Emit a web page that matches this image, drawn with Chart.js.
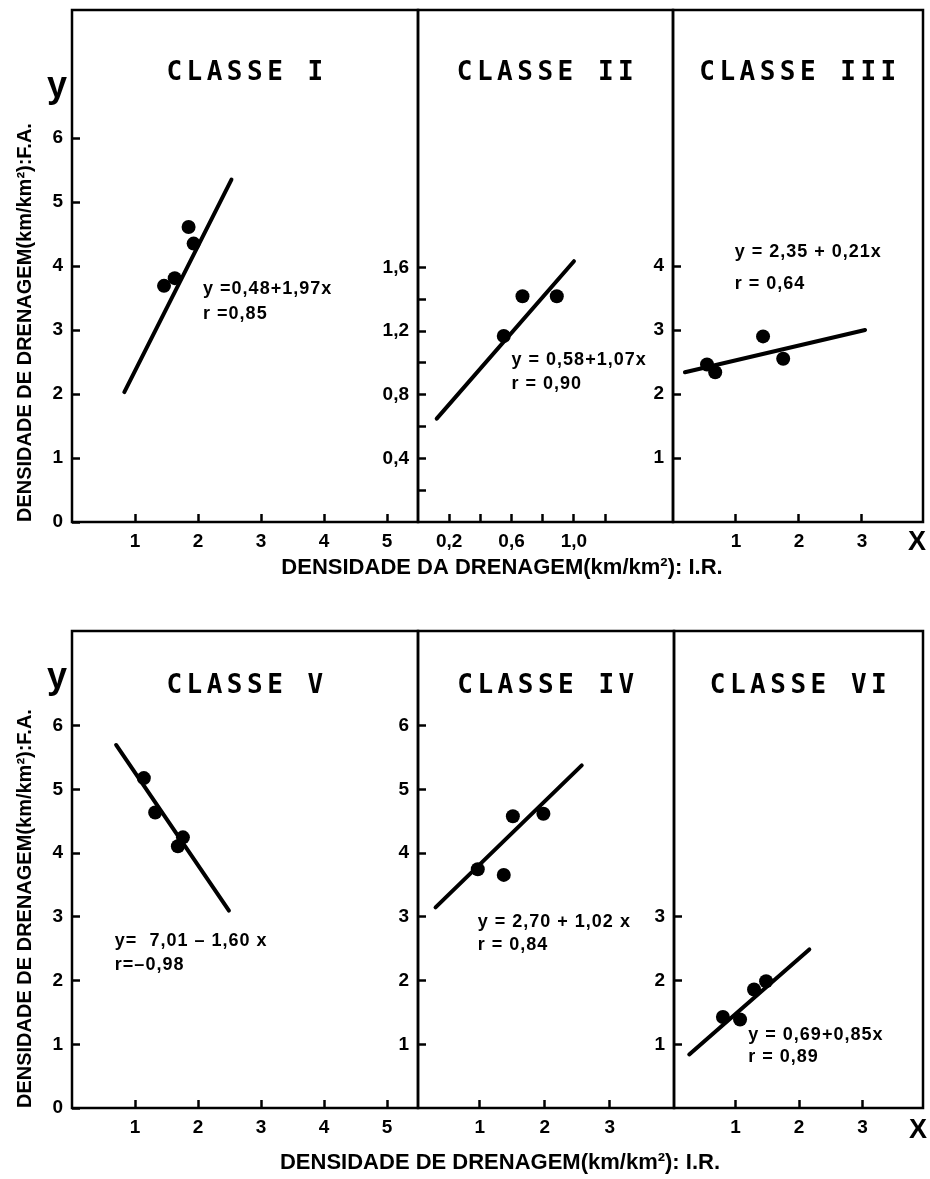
<!DOCTYPE html>
<html>
<head>
<meta charset="utf-8">
<script src="https://cdn.jsdelivr.net/npm/chart.js@4"></script>
<style>
  html, body { margin: 0; background: #fff; }
  #wrap { position: relative; width: 930px; height: 1179px; }
  #wrap canvas { position: absolute; left: 0; top: 0; }
</style>
</head>
<body>
<div id="wrap">
  <canvas id="c1" width="930" height="1179"></canvas>
  <canvas id="c2" width="930" height="1179"></canvas>
  <canvas id="c3" width="930" height="1179"></canvas>
  <canvas id="c5" width="930" height="1179"></canvas>
  <canvas id="c4" width="930" height="1179"></canvas>
  <canvas id="c6" width="930" height="1179"></canvas>
</div>
<script>
// Classe I
var c1PtsX = [1.46, 1.63, 1.85, 1.93];
var c1PtsY = [3.69, 3.81, 4.61, 4.35];
var c1FitX = [0.83, 2.53];
var c1FitY = [2.03, 5.35];
var c1XTicks = [1, 2, 3, 4, 5];
var c1XLabels = ['1', '2', '3', '4', '5'];
var c1YTicks = [0, 1, 2, 3, 4, 5, 6];
var c1YLabels = ['0', '1', '2', '3', '4', '5', '6'];
var c1Eq = ['y =0,48+1,97x', 'r =0,85'];

// Classe II
var c2PtsX = [0.55, 0.67, 0.89];
var c2PtsY = [1.17, 1.42, 1.42];
var c2FitX = [0.12, 1.0];
var c2FitY = [0.65, 1.64];
var c2XTicks = [0.2, 0.4, 0.6, 0.8, 1.0, 1.2];
var c2XLabels = ['0,2', '', '0,6', '', '1,0', ''];
var c2YTicks = [0.2, 0.4, 0.6, 0.8, 1.0, 1.2, 1.4, 1.6];
var c2YLabels = ['', '0,4', '', '0,8', '', '1,2', '', '1,6'];
var c2Eq = ['y = 0,58+1,07x', 'r = 0,90'];

// Classe III
var c3PtsX = [0.54, 0.67, 1.43, 1.75];
var c3PtsY = [2.46, 2.34, 2.90, 2.55];
var c3FitX = [0.19, 3.05];
var c3FitY = [2.34, 3.0];
var c3XTicks = [1, 2, 3];
var c3XLabels = ['1', '2', '3'];
var c3YTicks = [1, 2, 3, 4];
var c3YLabels = ['1', '2', '3', '4'];
var c3Eq = ['y = 2,35 + 0,21x', 'r = 0,64'];

// Classe V
var c5PtsX = [1.14, 1.32, 1.68, 1.76];
var c5PtsY = [5.18, 4.64, 4.11, 4.25];
var c5FitX = [0.70, 2.49];
var c5FitY = [5.70, 3.10];
var c5XTicks = [1, 2, 3, 4, 5];
var c5XLabels = ['1', '2', '3', '4', '5'];
var c5YTicks = [0, 1, 2, 3, 4, 5, 6];
var c5YLabels = ['0', '1', '2', '3', '4', '5', '6'];
var c5Eq = ['y=  7,01 \u2013 1,60 x', 'r=\u20130,98'];

// Classe IV
var c4PtsX = [0.97, 1.37, 1.51, 1.98];
var c4PtsY = [3.75, 3.66, 4.58, 4.62];
var c4FitX = [0.32, 2.57];
var c4FitY = [3.15, 5.38];
var c4XTicks = [1, 2, 3];
var c4XLabels = ['1', '2', '3'];
var c4YTicks = [1, 2, 3, 4, 5, 6];
var c4YLabels = ['1', '2', '3', '4', '5', '6'];
var c4Eq = ['y = 2,70 + 1,02 x', 'r = 0,84'];

// Classe VI
var c6PtsX = [0.80, 1.07, 1.29, 1.48];
var c6PtsY = [1.43, 1.39, 1.86, 1.99];
var c6FitX = [0.27, 2.16];
var c6FitY = [0.84, 2.49];
var c6XTicks = [1, 2, 3];
var c6XLabels = ['1', '2', '3'];
var c6YTicks = [1, 2, 3];
var c6YLabels = ['1', '2', '3'];
var c6Eq = ['y = 0,69+0,85x', 'r = 0,89'];

var yAxisTitle = 'DENSIDADE DE DRENAGEM(km/km\u00b2):F.A.';
var xAxisTitleTop = 'DENSIDADE DA DRENAGEM(km/km\u00b2): I.R.';
var xAxisTitleBottom = 'DENSIDADE DE DRENAGEM(km/km\u00b2): I.R.';

var FONT = "'Liberation Sans', Arial, sans-serif";
var MONO = "'DejaVu Sans Mono', monospace";
var W_Y = 60, H_X = 40;

function pts(xs, ys) {
    return xs.map(function (x, i) { return { x: x, y: ys[i] }; });
}

// panel layout (box = left, top, right, bottom in px)
var panels = [
    { id: 'c1', box: [72, 10, 418, 522], xr: [0, 5.49], yr: [0, 8], title: 'CLASSE I', titleDy: 63,
      px: c1PtsX, py: c1PtsY, fx: c1FitX, fy: c1FitY, xt: c1XTicks, xl: c1XLabels, yt: c1YTicks, yl: c1YLabels,
      eq: c1Eq, eqAt: [2.08, 3.64, 3.25], yTitle: true, row: 'top' },
    { id: 'c2', box: [418, 10, 673, 522], xr: [0, 1.635], yr: [0, 3.22], title: 'CLASSE II', titleDy: 63,
      px: c2PtsX, py: c2PtsY, fx: c2FitX, fy: c2FitY, xt: c2XTicks, xl: c2XLabels, yt: c2YTicks, yl: c2YLabels,
      eq: c2Eq, eqAt: [0.60, 1.02, 0.87] },
    { id: 'c3', box: [673, 10, 923, 522], xr: [0, 3.97], yr: [0, 8], title: 'CLASSE III', titleDy: 63,
      px: c3PtsX, py: c3PtsY, fx: c3FitX, fy: c3FitY, xt: c3XTicks, xl: c3XLabels, yt: c3YTicks, yl: c3YLabels,
      eq: c3Eq, eqAt: [0.98, 4.22, 3.72] },
    { id: 'c5', box: [72, 631, 418, 1108], xr: [0, 5.49], yr: [0, 7.49], title: 'CLASSE V', titleDy: 55,
      px: c5PtsX, py: c5PtsY, fx: c5FitX, fy: c5FitY, xt: c5XTicks, xl: c5XLabels, yt: c5YTicks, yl: c5YLabels,
      eq: c5Eq, eqAt: [0.68, 2.62, 2.24], yTitle: true, row: 'bottom' },
    { id: 'c4', box: [418, 631, 674, 1108], xr: [0.05, 3.99], yr: [0, 7.49], title: 'CLASSE IV', titleDy: 55,
      px: c4PtsX, py: c4PtsY, fx: c4FitX, fy: c4FitY, xt: c4XTicks, xl: c4XLabels, yt: c4YTicks, yl: c4YLabels,
      eq: c4Eq, eqAt: [0.97, 2.92, 2.56] },
    { id: 'c6', box: [674, 631, 923, 1108], xr: [0.03, 3.95], yr: [0, 7.49], title: 'CLASSE VI', titleDy: 55,
      px: c6PtsX, py: c6PtsY, fx: c6FitX, fy: c6FitY, xt: c6XTicks, xl: c6XLabels, yt: c6YTicks, yl: c6YLabels,
      eq: c6Eq, eqAt: [1.2, 1.15, 0.80] }
];

var rowText = {
    top: { yLetter: [57, 97], xLetter: [917, 543], xTitle: xAxisTitleTop, xTitleAt: [502, 568] },
    bottom: { yLetter: [57, 688], xLetter: [918, 1131], xTitle: xAxisTitleBottom, xTitleAt: [500, 1163] }
};

var framePlugin = {
    id: 'frame',
    beforeDatasetsDraw: function (chart) {
        var a = chart.chartArea, c = chart.ctx;
        c.save();
        c.strokeStyle = '#000';
        c.lineWidth = 2.5;
        c.strokeRect(a.left, a.top, a.right - a.left, a.bottom - a.top);
        c.restore();
    }
};

function textPlugin(p) {
    return {
        id: 'panelText',
        afterDraw: function (chart) {
            var ctx = chart.ctx, a = chart.chartArea;
            var sx = chart.scales.x, sy = chart.scales.y;
            ctx.save();
            ctx.fillStyle = '#000';
            // panel title
            ctx.font = 'bold 26px ' + MONO;
            ctx.letterSpacing = '4.5px';
            ctx.textAlign = 'center';
            ctx.textBaseline = 'middle';
            ctx.fillText(p.title, (a.left + a.right) / 2 + 2, a.top + p.titleDy);
            // regression equation
            ctx.font = 'bold 18px ' + FONT;
            ctx.letterSpacing = '1px';
            ctx.textAlign = 'left';
            var ex = sx.getPixelForValue(p.eqAt[0]);
            ctx.fillText(p.eq[0], ex, sy.getPixelForValue(p.eqAt[1]));
            ctx.fillText(p.eq[1], ex, sy.getPixelForValue(p.eqAt[2]));
            ctx.letterSpacing = '0px';
            // row-level texts
            if (p.row) {
                var r = rowText[p.row];
                ctx.textAlign = 'center';
                ctx.textBaseline = 'alphabetic';
                ctx.font = 'bold 36px ' + FONT;
                ctx.fillText('y', r.yLetter[0], r.yLetter[1]);
                ctx.textBaseline = 'middle';
                ctx.font = 'bold 27px ' + FONT;
                ctx.fillText('X', r.xLetter[0], r.xLetter[1]);
                ctx.font = 'bold 22px ' + FONT;
                ctx.fillText(r.xTitle, r.xTitleAt[0], r.xTitleAt[1]);
            }
            ctx.restore();
        }
    };
}

panels.forEach(function (p) {
    var yw = p.yTitle ? p.box[0] : W_Y;
    var tickFont = { family: FONT, size: 19, weight: 'bold' };
    new Chart(document.getElementById(p.id), {
        type: 'scatter',
        data: {
            datasets: [
                { data: pts(p.px, p.py), pointRadius: 7, pointHoverRadius: 7,
                  backgroundColor: '#000', borderWidth: 0 },
                { data: pts(p.fx, p.fy), showLine: true, pointRadius: 0, borderColor: '#000',
                  borderWidth: 4, borderCapStyle: 'round' }
            ]
        },
        options: {
            responsive: false,
            animation: false,
            events: [],
            layout: { padding: { left: p.box[0] - yw, top: p.box[1], right: 930 - p.box[2], bottom: 1179 - p.box[3] - H_X } },
            plugins: { legend: { display: false }, tooltip: { enabled: false } },
            scales: {
                x: {
                    type: 'linear', min: p.xr[0], max: p.xr[1],
                    afterFit: function (s) { s.height = H_X; s.paddingLeft = 0; s.paddingRight = 0; },
                    afterBuildTicks: function (s) { s.ticks = p.xt.map(function (v) { return { value: v }; }); },
                    grid: { drawOnChartArea: false, drawTicks: true, tickLength: -8, tickWidth: 2.5, tickColor: '#000' },
                    border: { display: false },
                    ticks: { autoSkip: false, maxRotation: 0, padding: 16, color: '#000', font: tickFont,
                             callback: function (v, i) { return p.xl[i]; } }
                },
                y: {
                    type: 'linear', min: p.yr[0], max: p.yr[1],
                    afterFit: function (s) { s.width = yw; s.paddingTop = 0; s.paddingBottom = 0; },
                    afterBuildTicks: function (s) { s.ticks = p.yt.map(function (v) { return { value: v }; }); },
                    grid: { drawOnChartArea: false, drawTicks: true, tickLength: -8, tickWidth: 2.5, tickColor: '#000' },
                    border: { display: false },
                    ticks: { autoSkip: false, padding: 17, color: '#000', font: tickFont,
                             callback: function (v, i) { return p.yl[i]; } },
                    title: { display: !!p.yTitle, text: yAxisTitle, align: 'start', color: '#000',
                             font: { family: FONT, size: 20, weight: 'bold' }, padding: { top: 13, bottom: 0 } }
                }
            }
        },
        plugins: [framePlugin, textPlugin(p)]
    });
});
</script>
</body>
</html>
